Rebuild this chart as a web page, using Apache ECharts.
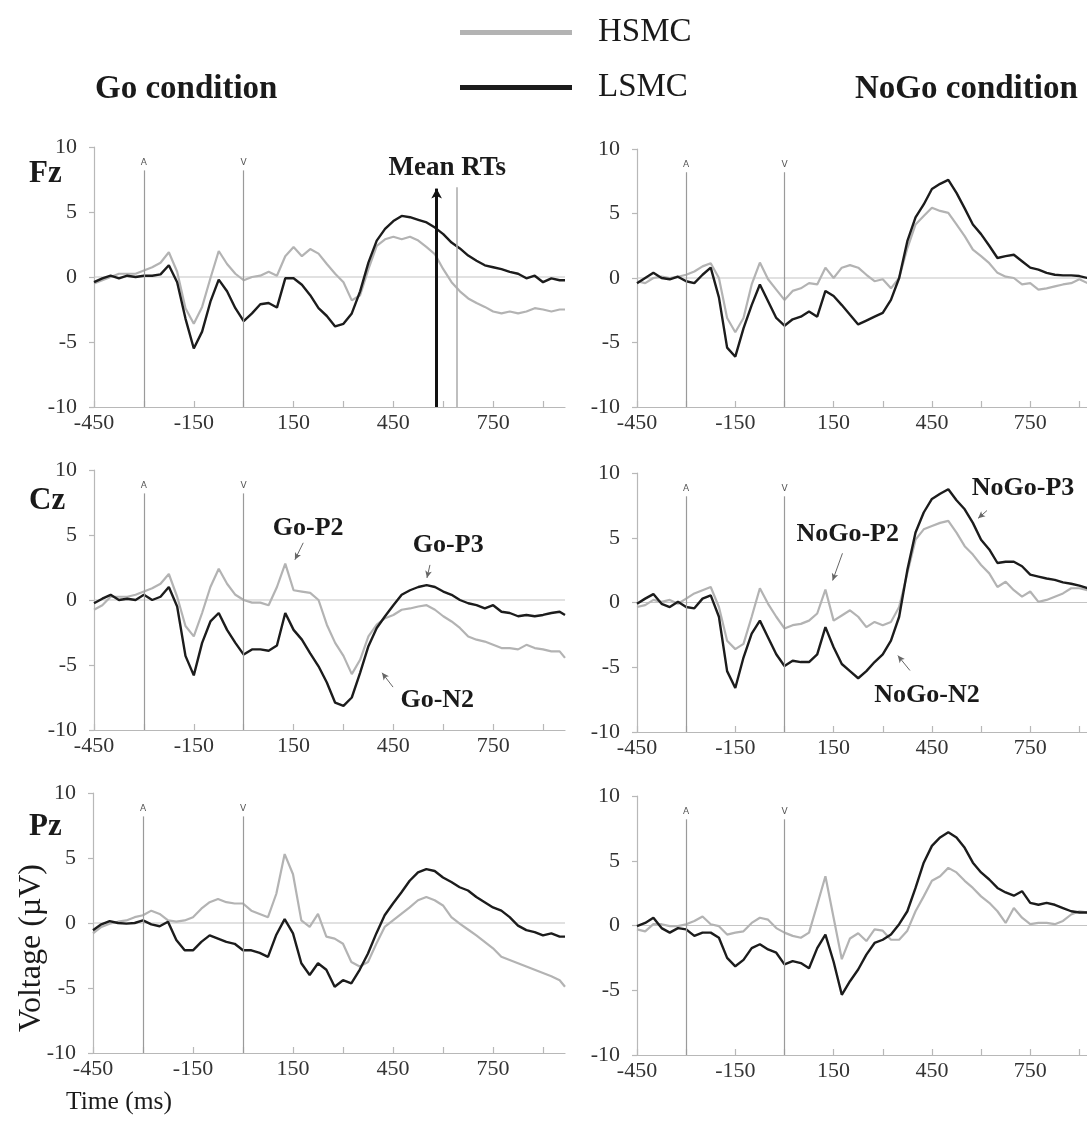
<!DOCTYPE html>
<html><head><meta charset="utf-8">
<script src="https://cdn.jsdelivr.net/npm/echarts@6/dist/echarts.min.js"></script>
<style>html,body{margin:0;padding:0;background:#fff}#c{width:1087px;height:1121px}</style>
</head><body><div id="c"></div>
<script>
// ---------- DATA ----------
const times = [-450,-425,-400,-375,-350,-325,-300,-275,-250,-225,
  -200,-175,-150,-125,-100,-75,-50,-25,0,25,
  50,75,100,125,150,175,200,225,250,275,
  300,325,350,375,400,425,450,475,500,525,
  550,575,600,625,650,675,700,725,750,775,
  800,825,850,875,900,925,950,966];

const fzGoHSMC = [-0.5,-0.25,0,0.25,0.25,0.25,0.5,0.75,1.1,1.9,
  0.4,-2.4,-3.6,-2.3,-0.1,2.0,1.0,0.25,-0.25,0,
  0.1,0.4,0.1,1.6,2.3,1.6,2.15,1.8,1.0,0.25,
  -0.4,-1.8,-1.4,0.6,2.4,2.9,3.1,2.9,3.1,2.8,
  2.3,1.75,0.6,-0.4,-1.1,-1.65,-2.0,-2.3,-2.65,-2.8,
  -2.65,-2.8,-2.65,-2.4,-2.5,-2.65,-2.5,-2.5];
const fzGoLSMC = [-0.4,-0.1,0.1,-0.1,0.1,0,0.1,0.1,0.2,0.9,
  -0.4,-3.2,-5.5,-4.2,-1.9,-0.2,-1.1,-2.4,-3.4,-2.8,
  -2.1,-2.0,-2.35,-0.1,-0.1,-0.6,-1.4,-2.4,-3.0,-3.8,
  -3.6,-2.8,-1.1,1.1,2.8,3.7,4.3,4.7,4.6,4.4,
  4.2,3.8,3.3,2.65,2.2,1.65,1.25,0.9,0.75,0.6,
  0.4,0.25,-0.1,0.1,-0.4,-0.1,-0.25,-0.25];

const fzNoGoHSMC = [-0.25,-0.4,0,0.1,0,0.1,0.25,0.5,0.9,1.15,
  0,-3.1,-4.2,-3.1,-0.5,1.2,-0.1,-0.9,-1.7,-1.0,
  -0.8,-0.4,-0.5,0.8,0,0.8,1.0,0.8,0.25,-0.25,
  -0.1,-0.8,0,2.3,4.15,4.8,5.45,5.2,5.05,4.15,
  3.25,2.2,1.7,1.15,0.4,0.1,0,-0.5,-0.4,-0.9,
  -0.8,-0.65,-0.5,-0.4,-0.1,-0.4,-0.3,-0.25];
const fzNoGoLSMC = [-0.4,0,0.4,0,-0.1,0.1,-0.25,-0.4,0.25,0.8,
  -1.5,-5.4,-6.1,-3.9,-2.1,-0.5,-1.8,-3.1,-3.7,-3.2,
  -3.0,-2.6,-3.0,-1.0,-1.4,-2.1,-2.85,-3.6,-3.3,-3.0,
  -2.7,-1.7,0,2.85,4.7,5.7,6.9,7.3,7.6,6.6,
  5.4,4.15,3.4,2.5,1.55,1.7,1.8,1.3,0.8,0.65,
  0.4,0.25,0.2,0.2,0.15,0,0,-0.1];

const czGoHSMC = [-0.75,-0.4,0.25,0.25,0.25,0.4,0.65,0.9,1.25,2.0,
  0.25,-2.0,-2.8,-1.0,1.0,2.4,1.25,0.4,0,-0.2,
  -0.2,-0.4,1.0,2.8,0.75,0.65,0.55,0,-1.9,-3.3,
  -4.3,-5.7,-4.6,-2.8,-1.9,-1.4,-1.15,-0.75,-0.65,-0.5,
  -0.4,-0.75,-1.25,-1.65,-2.15,-2.8,-3.05,-3.2,-3.45,-3.7,
  -3.7,-3.8,-3.45,-3.7,-3.8,-3.95,-3.95,-4.45];
const czGoLSMC = [-0.25,0.1,0.4,0,0.1,0,0.4,0,0.25,1.0,
  -0.5,-4.3,-5.8,-3.3,-1.65,-1.0,-2.3,-3.3,-4.2,-3.8,
  -3.8,-3.9,-3.5,-1.0,-2.3,-3.05,-4.1,-5.1,-6.35,-7.9,
  -8.15,-7.5,-5.6,-3.55,-2.15,-1.25,-0.4,0.4,0.75,1.0,
  1.15,1.0,0.65,0.4,0,-0.25,-0.4,-0.65,-0.4,-0.9,
  -1.0,-1.25,-1.15,-1.25,-1.15,-1.0,-0.9,-1.15];

const czNoGoHSMC = [-0.35,-0.2,0.2,0.05,0.2,-0.1,0.3,0.7,0.95,1.2,
  -0.35,-2.95,-3.6,-3.2,-1.1,1.1,-0.1,-1.1,-2.0,-1.75,
  -1.65,-1.4,-0.85,1.0,-1.4,-1.0,-0.6,-1.1,-1.9,-1.5,
  -1.75,-1.5,-0.35,2.25,4.85,5.65,5.9,6.15,6.3,5.4,
  4.35,3.7,2.9,2.25,1.2,1.6,0.95,0.45,0.85,0.05,
  0.2,0.45,0.7,1.1,1.1,0.95,0.95,0.95];
const czNoGoLSMC = [-0.1,0.3,0.65,-0.1,-0.35,0.05,-0.35,-0.45,0.3,0.55,
  -1.1,-5.3,-6.6,-4.25,-2.4,-1.4,-2.7,-4.0,-4.9,-4.5,
  -4.6,-4.6,-4.0,-1.9,-3.45,-4.75,-5.3,-5.85,-5.3,-4.6,
  -4.0,-2.95,-1.1,2.5,5.4,6.95,8.0,8.4,8.75,7.9,
  7.2,6.15,4.85,4.1,3.05,3.15,3.15,2.8,2.15,2.0,
  1.85,1.75,1.55,1.45,1.3,1.1,1.05,1.0];

const pzGoHSMC = [-0.8,-0.3,-0.05,0.1,0.2,0.45,0.6,0.95,0.7,0.2,
  0.1,0.2,0.45,1.1,1.6,1.85,1.6,1.5,1.5,0.95,
  0.7,0.45,2.25,5.3,3.75,0.2,-0.3,0.7,-1.05,-1.2,
  -1.6,-3.0,-3.35,-3.0,-1.6,-0.3,0.2,0.7,1.2,1.75,
  2.0,1.75,1.35,0.45,-0.05,-0.5,-0.95,-1.45,-1.95,-2.6,
  -2.85,-3.1,-3.35,-3.6,-3.85,-4.1,-4.4,-4.9];
const pzGoLSMC = [-0.55,-0.1,0.15,0,-0.05,0,0.2,-0.1,-0.25,0.1,
  -1.3,-2.1,-2.1,-1.45,-0.95,-1.2,-1.45,-1.6,-2.1,-2.1,
  -2.3,-2.6,-0.9,0.3,-0.8,-3.1,-4.0,-3.1,-3.6,-4.9,
  -4.4,-4.65,-3.6,-2.35,-0.8,0.6,1.5,2.35,3.25,3.9,
  4.15,4.0,3.5,3.15,2.75,2.5,2.0,1.6,1.2,0.95,
  0.45,-0.2,-0.55,-0.7,-0.95,-0.8,-1.05,-1.05];

const pzNoGoHSMC = [-0.3,-0.45,0.1,0.1,-0.05,-0.05,0.1,0.35,0.7,0.1,
  -0.05,-0.7,-0.55,-0.45,0.2,0.6,0.45,-0.2,-0.55,-0.8,
  -0.95,-0.55,1.6,3.8,0.6,-2.6,-1.0,-0.6,-1.2,-0.3,
  -0.4,-1.1,-1.1,-0.4,1.1,2.25,3.45,3.8,4.45,4.1,
  3.45,2.9,2.25,1.75,1.1,0.2,1.35,0.6,0.1,0.2,
  0.2,0.1,0.35,0.85,1.1,1.0,1.0,1.0];
const pzNoGoLSMC = [-0.05,0.2,0.6,-0.2,-0.55,-0.2,-0.3,-0.8,-0.55,-0.55,
  -0.95,-2.5,-3.15,-2.65,-1.75,-1.45,-1.85,-2.1,-3.0,-2.75,
  -2.9,-3.3,-1.75,-0.7,-2.8,-5.35,-4.3,-3.4,-2.25,-1.35,
  -1.1,-0.7,0.1,1.1,2.9,4.85,6.15,6.8,7.2,6.8,
  6.0,4.85,4.1,3.55,2.9,2.55,2.3,2.65,1.75,1.6,
  1.75,1.6,1.35,1.1,1.0,1.0,0.9,0.85];

const xTickLabels = [-450, -150, 150, 450, 750];
const yTickLabels = [-10, -5, 0, 5, 10];
const stimA = -300, stimV = 0;
const meanRT = 580, meanRT2 = 640;
const legendNames = ['HSMC', 'LSMC'];

// ---------- LAYOUT ----------
const FONT = 'Liberation Serif';
const GRAY = '#b3b3b3', BLACK = '#1c1c1c', AXIS = '#b8b8b8';
const panels = [
  {grid:{left:94, top:147, width:471, height:260}, h:fzGoHSMC,   l:fzGoLSMC},
  {grid:{left:637, top:149, width:464, height:258}, h:fzNoGoHSMC, l:fzNoGoLSMC},
  {grid:{left:94, top:470, width:471, height:260}, h:czGoHSMC,   l:czGoLSMC},
  {grid:{left:637, top:473, width:464, height:259}, h:czNoGoHSMC, l:czNoGoLSMC},
  {grid:{left:93, top:793, width:472, height:260}, h:pzGoHSMC,   l:pzGoLSMC},
  {grid:{left:637, top:796, width:464, height:259}, h:pzNoGoHSMC, l:pzNoGoLSMC}
];
const annotations = {
  2: [
    {text:'Go-P2', at:[194,5.5], from:[179,4.4], to:[154,3.1]},
    {text:'Go-P3', at:[615,4.2], from:[560,2.7], to:[551,1.7]},
    {text:'Go-N2', at:[582,-7.7], from:[449,-6.7], to:[416,-5.6]}
  ],
  3: [
    {text:'NoGo-P2', at:[193,5.3], from:[177,3.8], to:[147,1.7]},
    {text:'NoGo-P3', at:[728,8.8], from:[618,7.1], to:[591,6.5]},
    {text:'NoGo-N2', at:[435,-7.2], from:[383,-5.25], to:[346,-4.1]}
  ]
};

const grids = [], xAxes = [], yAxes = [], series = [];
const pairs = (arr) => times.map((t, k) => [t, arr[k]]);

panels.forEach((p, i) => {
  grids.push(Object.assign({containLabel:false, outerBoundsMode:'none'}, p.grid));
  xAxes.push({
    type:'value', gridIndex:i, min:times[0], max:times[times.length-1], interval:150,
    axisLine:{show:true, onZero:false, lineStyle:{color:AXIS, width:1.2}},
    axisTick:{show:true, inside:true, length:6, lineStyle:{color:AXIS, width:1.2}},
    splitLine:{show:false},
    axisLabel:{margin:5, fontFamily:FONT, fontSize:22, color:'#333',
      showMaxLabel:false,
      formatter: v => xTickLabels.includes(v) ? String(v) : ''}
  });
  yAxes.push({
    type:'value', gridIndex:i, min:yTickLabels[0], max:yTickLabels[yTickLabels.length-1], interval:5,
    axisLine:{show:true, onZero:false, lineStyle:{color:AXIS, width:1.2}},
    axisTick:{show:true, length:5, lineStyle:{color:AXIS, width:1.2}},
    splitLine:{show:false},
    axisLabel:{margin:17, fontFamily:FONT, fontSize:22, color:'#333'}
  });

  const stimLine = (x, name) => [
    {coord:[x, -10], symbol:'none',
     label:{show:true, position:'end', formatter:name, fontSize:9, fontFamily:'DejaVu Sans', color:'#555', distance:3}},
    {coord:[x, 8.2], symbol:'none'}
  ];
  const mlData = [stimLine(stimA, 'A'), stimLine(stimV, 'V')];
  const mpData = [];
  if (i === 0) {
    mlData.push([
      {coord:[meanRT2, -10], symbol:'none', lineStyle:{color:'#aaa', width:1.5}},
      {coord:[meanRT2, 6.9], symbol:'none'}
    ]);
    mlData.push([
      {coord:[meanRT, -10], symbol:'none', lineStyle:{color:'#111', width:3}},
      {coord:[meanRT, 6.8], symbol:'arrow', symbolSize:[8, 10]}
    ]);
    mpData.push({name:'Mean RTs', coord:[612, 8.4], label:{fontSize:27}});
  }
  (annotations[i] || []).forEach(a => {
    mlData.push([
      {coord:a.from, symbol:'none', lineStyle:{color:'#666', width:1}},
      {coord:a.to, symbol:'arrow', symbolSize:[5, 7]}
    ]);
    mpData.push({name:a.text, coord:a.at});
  });

  // zero line (helper) + markers
  series.push({
    type:'line', name:'zero', xAxisIndex:i, yAxisIndex:i, z:1, silent:true,
    data:[[times[0],0],[times[times.length-1],0]], showSymbol:false,
    lineStyle:{color:'#c4c4c4', width:1.2}, itemStyle:{color:'#c4c4c4'},
    markLine:{silent:true, symbol:'none', animation:false,
      lineStyle:{type:'solid', color:'#9a9a9a', width:1.2},
      label:{show:false}, data:mlData},
    markPoint:{silent:true, symbol:'circle', symbolSize:0, animation:false,
      itemStyle:{color:'transparent'},
      label:{show:true, position:'inside', formatter:'{b}', fontFamily:FONT, fontWeight:'bold', fontSize:26, color:'#1a1a1a'},
      data:mpData}
  });
  series.push({
    type:'line', name:legendNames[0], xAxisIndex:i, yAxisIndex:i, z:3,
    data:pairs(p.h), showSymbol:false, animation:false,
    lineStyle:{color:GRAY, width:2.2}, itemStyle:{color:GRAY}
  });
  series.push({
    type:'line', name:legendNames[1], xAxisIndex:i, yAxisIndex:i, z:4,
    data:pairs(p.l), showSymbol:false, animation:false,
    lineStyle:{color:BLACK, width:2.4}, itemStyle:{color:BLACK}
  });
});

const option = {
  backgroundColor:'#fff',
  animation:false,
  title:[
    {text:'Go condition', left:90, top:68, textStyle:{fontFamily:FONT, fontWeight:'bold', fontSize:33, color:'#1a1a1a'}},
    {text:'NoGo condition', left:850, top:68, textStyle:{fontFamily:FONT, fontWeight:'bold', fontSize:33, color:'#1a1a1a'}},
    {text:'Fz', left:24, top:153, textStyle:{fontFamily:FONT, fontWeight:'bold', fontSize:31, color:'#1a1a1a'}},
    {text:'Cz', left:24, top:480, textStyle:{fontFamily:FONT, fontWeight:'bold', fontSize:31, color:'#1a1a1a'}},
    {text:'Pz', left:24, top:806, textStyle:{fontFamily:FONT, fontWeight:'bold', fontSize:31, color:'#1a1a1a'}}
  ],
  legend:{
    data:legendNames, orient:'vertical', left:455, top:11, selectedMode:false,
    icon:'rect', itemWidth:112, itemHeight:5, itemGap:22,
    textStyle:{fontFamily:FONT, fontSize:33, color:'#1a1a1a', padding:[0,0,0,21]}
  },
  graphic:[
    {type:'text', left:16, top:864, rotation:Math.PI/2, silent:true,
      style:{text:'Voltage (\u00b5V)', fontFamily:FONT, fontSize:32, fill:'#1a1a1a'}},
    {type:'text', left:66, top:1089, silent:true,
      style:{text:'Time (ms)', fontFamily:FONT, fontSize:25.5, fill:'#1a1a1a'}}
  ],
  grid:grids, xAxis:xAxes, yAxis:yAxes, series:series
};
const chart = echarts.init(document.getElementById('c'));
chart.setOption(option);
</script></body></html>
